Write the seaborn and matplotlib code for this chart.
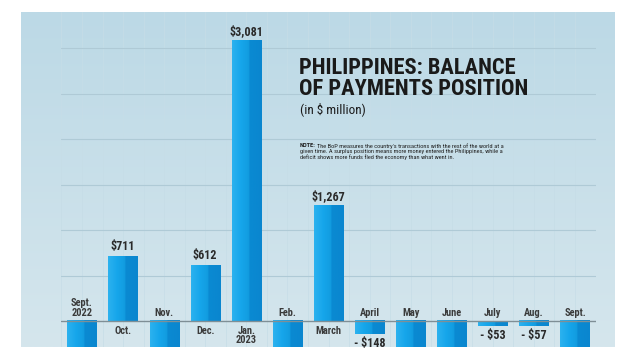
import numpy as np
import pandas as pd
import matplotlib
matplotlib.use("Agg")
import matplotlib.pyplot as plt
from matplotlib.colors import LinearSegmentedColormap
import seaborn as sns

# ---------------------------------------------------------------
# Data (in $ million); bars that run off the bottom are estimates
# ---------------------------------------------------------------
months = ["Sept.\n2022", "Oct.", "Nov.", "Dec.", "Jan.\n2023", "Feb.", "March",
          "April", "May", "June", "July", "Aug.", "Sept."]
values = [-1826, 711, -1270, 612, 3081, -745, 1267, -148, -1890, -1000, -53, -57, -1120]
value_labels = ["", "$711", "", "$612", "$3,081", "", "$1,267",
                "- $148", "", "", "- $53", "- $57", ""]
grid_levels = [500, 1000, 1500, 2000, 2500, 3000]

title = "PHILIPPINES: BALANCE\nOF PAYMENTS POSITION"
subtitle = "(in $ million)"
note_lines = ["The BoP measures the country's transactions with the rest of the world at a",
              "given time. A surplus position means more money entered the Philippines, while a",
              "deficit shows more funds fled the economy than what went in."]

# ---------------------------------------------------------------
# Style
# ---------------------------------------------------------------
sns.set_theme(style="white")
FONT = ["Roboto Condensed", "Archivo Narrow", "DejaVu Sans"]
plt.rcParams["font.family"] = FONT

W, H = 640, 360
fig = plt.figure(figsize=(6.4, 3.6), dpi=100)
fig.patch.set_facecolor("white")


def fx(x):
    return x / W


def fy(y):
    return 1 - y / H


# panel background with a soft vertical gradient
bg = fig.add_axes([fx(21), fy(347), fx(615) - fx(21), fy(12) - fy(347)], zorder=0)
bg_cmap = LinearSegmentedColormap.from_list("bg", ["#bcd9e6", "#d5e6ed"])
bg.imshow(np.linspace(0, 1, 256).reshape(-1, 1), aspect="auto", cmap=bg_cmap,
          extent=[0, 1, 0, 1], origin="upper")
bg.set_axis_off()

# main chart axes
ax = fig.add_axes([fx(61), fy(347), fx(596) - fx(61), fy(12) - fy(347)], zorder=1)
ax.set_facecolor("none")

df = pd.DataFrame({"month": months, "value": values})
sns.barplot(data=df, x="month", y="value", order=months, color="#1aa6e6",
            width=0.71, ax=ax, saturation=1)

ymin = -26 / 0.0909
ymax = (321 - 12) / 0.0909

# gradient fill for each bar (light cyan left, darker blue right)
bar_cmap = LinearSegmentedColormap.from_list(
    "bar", [(0.0, "#2cb2ef"), (0.3, "#16a6eb"), (0.56, "#129ce0"),
            (0.6, "#0a8ad2"), (1.0, "#0a86cf")])
grad = np.linspace(0, 1, 64).reshape(1, -1)
for p in ax.patches:
    x0, y0 = p.get_x(), p.get_y()
    w, h = p.get_width(), p.get_height()
    y_lo = max(min(y0, y0 + h), ymin)
    y_hi = max(y0, y0 + h)
    ax.imshow(grad, aspect="auto", cmap=bar_cmap, extent=[x0, x0 + w, y_lo, y_hi],
              zorder=2)
    p.set_facecolor("none")
    p.set_edgecolor("none")
ax.set_xlim(-0.51, 12.51)
ax.set_ylim(ymin, ymax)

# horizontal guide lines + faint vertical graph-paper lines
for lvl in grid_levels:
    ax.axhline(lvl, color="#afcad6", lw=0.8, zorder=0.5)
for xv in np.arange(-0.5, 12.6, 0.5):
    ax.axvline(xv, color="#c6dde7", lw=0.5, zorder=0.4)
ax.axhline(0, color="#7f8f96", lw=1.0, zorder=3)

for s in ax.spines.values():
    s.set_visible(False)
ax.set_xticks([])
ax.set_yticks([])
ax.set_xlabel("")
ax.set_ylabel("")

# month labels (above the baseline for deficits, below for surpluses)
px_per_unit = 0.0909
off = 3 / px_per_unit
for i, (m, v) in enumerate(zip(months, values)):
    if v < 0:
        ax.text(i, off, m, ha="center", va="bottom", fontsize=7.5, fontweight="bold",
                color="#3a3a3a", linespacing=0.95, zorder=4)
    else:
        ax.text(i, -off * 1.6, m, ha="center", va="top", fontsize=7.5, fontweight="bold",
                color="#3a3a3a", linespacing=0.95, zorder=4)

# value labels
for i, (lab, v) in enumerate(zip(value_labels, values)):
    if not lab:
        continue
    if v > 0:
        ax.text(i, v + off, lab, ha="center", va="bottom", fontsize=8.7,
                fontweight="bold", color="#2a2a2a", zorder=4)
    else:
        ax.text(i, v - off, lab, ha="center", va="top", fontsize=8.7,
                fontweight="bold", color="#2a2a2a", zorder=4)

# title block
fig.text(fx(299), fy(57), title, ha="left", va="top", fontsize=16.2, fontweight="bold",
         color="#1a1a1a", linespacing=0.95, zorder=5)
fig.text(fx(300), fy(102), subtitle, ha="left", va="top", fontsize=9.5,
         color="#1a1a1a", zorder=5)

# note: bold lead-in, rest of first line, then the remaining lines as a block
renderer = fig.canvas.get_renderer()
note_head = fig.text(fx(300), fy(143), "NOTE:", ha="left", va="top", fontsize=4.6,
                     fontweight="bold", color="#222222", zorder=5)
head_w = note_head.get_window_extent(renderer).width
line1 = fig.text(fx(300 + head_w + 1.5), fy(143), note_lines[0], ha="left", va="top",
                 fontsize=4.6, color="#222222", zorder=5)
line1_bottom = line1.get_window_extent(renderer).y0
fig.text(fx(300), (line1_bottom - 0.3) / H, "\n".join(note_lines[1:]), ha="left", va="top",
         fontsize=4.6, color="#222222", linespacing=1.0, zorder=5)

fig.savefig("out.png", dpi=100, facecolor="white")
